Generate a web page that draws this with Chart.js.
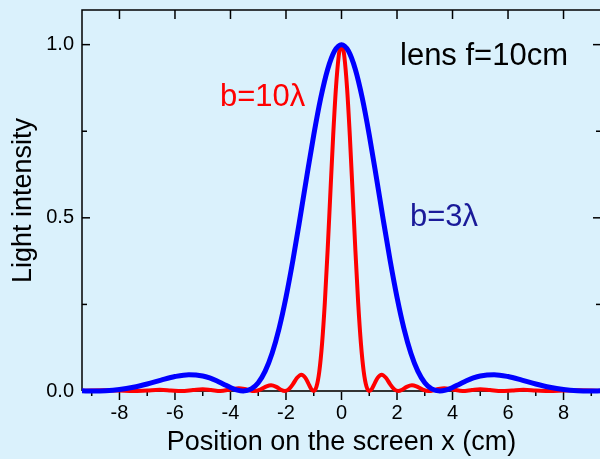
<!DOCTYPE html>
<html>
<head>
<meta charset="utf-8">
<script src="https://cdn.jsdelivr.net/npm/chart.js@4"></script>
<style>
  html, body { margin: 0; padding: 0; overflow: hidden; background: #daf1fc; }
  #wrap { width: 602px; height: 459px; }
</style>
</head>
<body>
<div id="wrap"><canvas id="chart" width="602" height="459"></canvas></div>
<script>
// Single slit diffraction seen through a lens, f = 10 cm
const blueX = [-9.35, -8.94, -8.5, -8, -7.5, -7, -6.5, -6, -5.5, -5, -4.75, -4.5, -4.25, -4, -3.75, -3.54,
    -3.25, -3, -2.75, -2.5, -2.25, -2, -1.75, -1.5, -1.25, -1, -0.75, -0.5, -0.25, 0,
    0.25, 0.5, 0.75, 1, 1.25, 1.5, 1.75, 2, 2.25, 2.5, 2.75, 3, 3.25,
    3.54, 3.75, 4, 4.25, 4.5, 4.75, 5, 5.5, 6, 6.5, 7, 7.5, 8, 8.5, 8.94, 9.35];
const blueY = [0.0006, 0, 0.0009, 0.0043, 0.0108, 0.0203, 0.0315, 0.0417, 0.0471, 0.0435, 0.0377, 0.0295, 0.0198, 0.0101, 0.0025, 0,
    0.0060, 0.0240, 0.0575, 0.1091, 0.1803, 0.2707, 0.3778, 0.4965, 0.6199, 0.7392, 0.8450, 0.9283, 0.9816, 1.0,
    0.9816, 0.9283, 0.8450, 0.7392, 0.6199, 0.4965, 0.3778, 0.2707, 0.1803, 0.1091, 0.0575, 0.0240, 0.0060,
    0, 0.0025, 0.0101, 0.0198, 0.0295, 0.0377, 0.0435, 0.0471, 0.0417, 0.0315, 0.0203, 0.0108, 0.0043, 0.0009, 0, 0.0006];

const redX = [-9.35, -9, -8.52, -8, -7.5, -7, -6.55, -6.15, -5.774, -5.35, -5, -4.7, -4.364, -4, -3.7, -3.4, -3.145,
    -2.9, -2.7, -2.54, -2.35, -2.2, -2.04, -1.9, -1.75, -1.6, -1.45, -1.3, -1.2, -1.1, -1.005,
    -0.9, -0.8, -0.7, -0.6, -0.5, -0.4, -0.3, -0.2, -0.1, -0.05, 0,
    0.05, 0.1, 0.2, 0.3, 0.4, 0.5, 0.6, 0.7, 0.8, 0.9,
    1.005, 1.1, 1.2, 1.3, 1.45, 1.6, 1.75, 1.9, 2.04, 2.2, 2.35, 2.54, 2.7, 2.9,
    3.145, 3.4, 3.7, 4, 4.364, 4.7, 5, 5.35, 5.774, 6.15, 6.55, 7, 7.5, 8, 8.52, 9, 9.35];
const redY = [0.0006, 0.0016, 0.0024, 0.0013, 0, 0.0017, 0.0034, 0.0017, 0, 0.0027, 0.0050, 0.0029, 0, 0.0045, 0.0083, 0.0039, 0,
    0.0051, 0.0133, 0.0165, 0.0120, 0.0044, 0, 0.0048, 0.0198, 0.0381, 0.0472, 0.0379, 0.0229, 0.0071, 0,
    0.0129, 0.0563, 0.1371, 0.2561, 0.4063, 0.5733, 0.7371, 0.8752, 0.9675, 0.9918, 1.0,
    0.9918, 0.9675, 0.8752, 0.7371, 0.5733, 0.4063, 0.2561, 0.1371, 0.0563, 0.0129,
    0, 0.0071, 0.0229, 0.0379, 0.0472, 0.0381, 0.0198, 0.0048, 0, 0.0044, 0.0120, 0.0165, 0.0133, 0.0051,
    0, 0.0039, 0.0083, 0.0045, 0, 0.0029, 0.0050, 0.0027, 0, 0.0017, 0.0034, 0.0017, 0, 0.0013, 0.0024, 0.0016, 0.0006];

const xLabelTicks = [-8, -6, -4, -2, 0, 2, 4, 6, 8];
const xMinorTicks = [-9, -7, -5, -3, -1, 1, 3, 5, 7, 9];
const yLabelTicks = [0, 0.5, 1.0];
const yMinorTicks = [0.25, 0.75];

const FONT = "'Liberation Sans', Arial, sans-serif";

function points(xs, ys) {
    return xs.map((x, i) => ({ x: x, y: ys[i] }));
}

function noEdgePadding(s) {
    s.paddingTop = 0;
    s.paddingBottom = 0;
    s.paddingLeft = 0;
    s.paddingRight = 0;
}

// frame and tick marks, drawn under the curves
const framePlugin = {
    id: 'frame',
    beforeDatasetsDraw(chart) {
        const { ctx, chartArea: a, scales: { x, y } } = chart;
        ctx.save();
        ctx.lineWidth = 1.5;
        ctx.strokeStyle = '#000';
        ctx.beginPath();
        ctx.moveTo(a.left, a.bottom);
        ctx.lineTo(a.left, a.top);
        ctx.lineTo(a.right, a.top);
        ctx.lineTo(a.right, a.bottom);
        ctx.stroke();

        const line = (x1, y1, x2, y2) => {
            ctx.beginPath();
            ctx.moveTo(x1, y1);
            ctx.lineTo(x2, y2);
            ctx.stroke();
        };
        xLabelTicks.forEach(v => {
            const px = x.getPixelForValue(v);
            line(px, a.bottom, px, a.bottom + 9);
            line(px, a.top, px, a.top + 9);
        });
        xMinorTicks.forEach(v => {
            const px = x.getPixelForValue(v);
            line(px, a.bottom, px, a.bottom + 5);
        });
        yLabelTicks.forEach(v => {
            const py = y.getPixelForValue(v);
            line(a.left, py, a.left + 8, py);
            line(a.right, py, a.right - 8, py);
        });
        yMinorTicks.forEach(v => {
            const py = y.getPixelForValue(v);
            line(a.left, py, a.left + 5, py);
            line(a.right, py, a.right - 5, py);
        });

        ctx.strokeStyle = '#333';
        ctx.lineWidth = 2;
        line(a.left, a.bottom, a.right, a.bottom);
        ctx.restore();
    }
};

// text labels inside the plot
const notesPlugin = {
    id: 'notes',
    afterDraw(chart) {
        const ctx = chart.ctx;
        ctx.save();
        ctx.textBaseline = 'alphabetic';
        ctx.textAlign = 'left';
        ctx.font = '31px ' + FONT;
        ctx.fillStyle = '#000';
        ctx.fillText('lens f=10cm', 400, 65);
        ctx.fillStyle = '#ff0000';
        ctx.fillText('b=10λ', 220, 106);
        ctx.fillStyle = '#1a1a99';
        ctx.fillText('b=3λ', 410, 226);
        ctx.restore();
    }
};

new Chart(document.getElementById('chart'), {
    type: 'line',
    data: {
        datasets: [{
            label: 'b=3λ',
            data: points(blueX, blueY),
            borderColor: '#0000ff',
            borderWidth: 5,
            pointRadius: 0,
            cubicInterpolationMode: 'monotone',
            borderJoinStyle: 'round',
            clip: false
        }, {
            label: 'b=10λ',
            data: points(redX, redY),
            borderColor: '#ff0000',
            borderWidth: 4,
            pointRadius: 0,
            cubicInterpolationMode: 'monotone',
            borderJoinStyle: 'round',
            clip: false
        }]
    },
    options: {
        responsive: false,
        animation: false,
        events: [],
        layout: { padding: { top: 10, right: 1, left: 0, bottom: 0 } },
        plugins: { legend: { display: false }, tooltip: { enabled: false } },
        scales: {
            x: {
                type: 'linear',
                min: -9.35,
                max: 9.35,
                grid: { display: false, drawTicks: false },
                border: { display: false },
                afterBuildTicks: s => { s.ticks = xLabelTicks.map(v => ({ value: v })); },
                afterFit: s => { s.height = 68; noEdgePadding(s); },
                ticks: {
                    padding: 10,
                    color: '#000',
                    font: { family: FONT, size: 20 },
                    maxRotation: 0,
                    callback: v => String(v)
                },
                title: {
                    display: true,
                    text: 'Position on the screen x (cm)',
                    color: '#000',
                    font: { family: FONT, size: 27 },
                    padding: { top: 0, bottom: 0 }
                }
            },
            y: {
                type: 'linear',
                min: 0,
                max: 1.1,
                grid: { display: false, drawTicks: false },
                border: { display: false },
                afterBuildTicks: s => { s.ticks = yLabelTicks.map(v => ({ value: v })); },
                afterFit: s => { s.width = 82; noEdgePadding(s); },
                ticks: {
                    padding: 8,
                    color: '#000',
                    font: { family: FONT, size: 20 },
                    callback: v => v.toFixed(1)
                },
                title: {
                    display: true,
                    text: 'Light intensity',
                    color: '#000',
                    font: { family: FONT, size: 27 },
                    padding: { top: 7, bottom: 0 }
                }
            }
        }
    },
    plugins: [framePlugin, notesPlugin]
});
</script>
</body>
</html>
